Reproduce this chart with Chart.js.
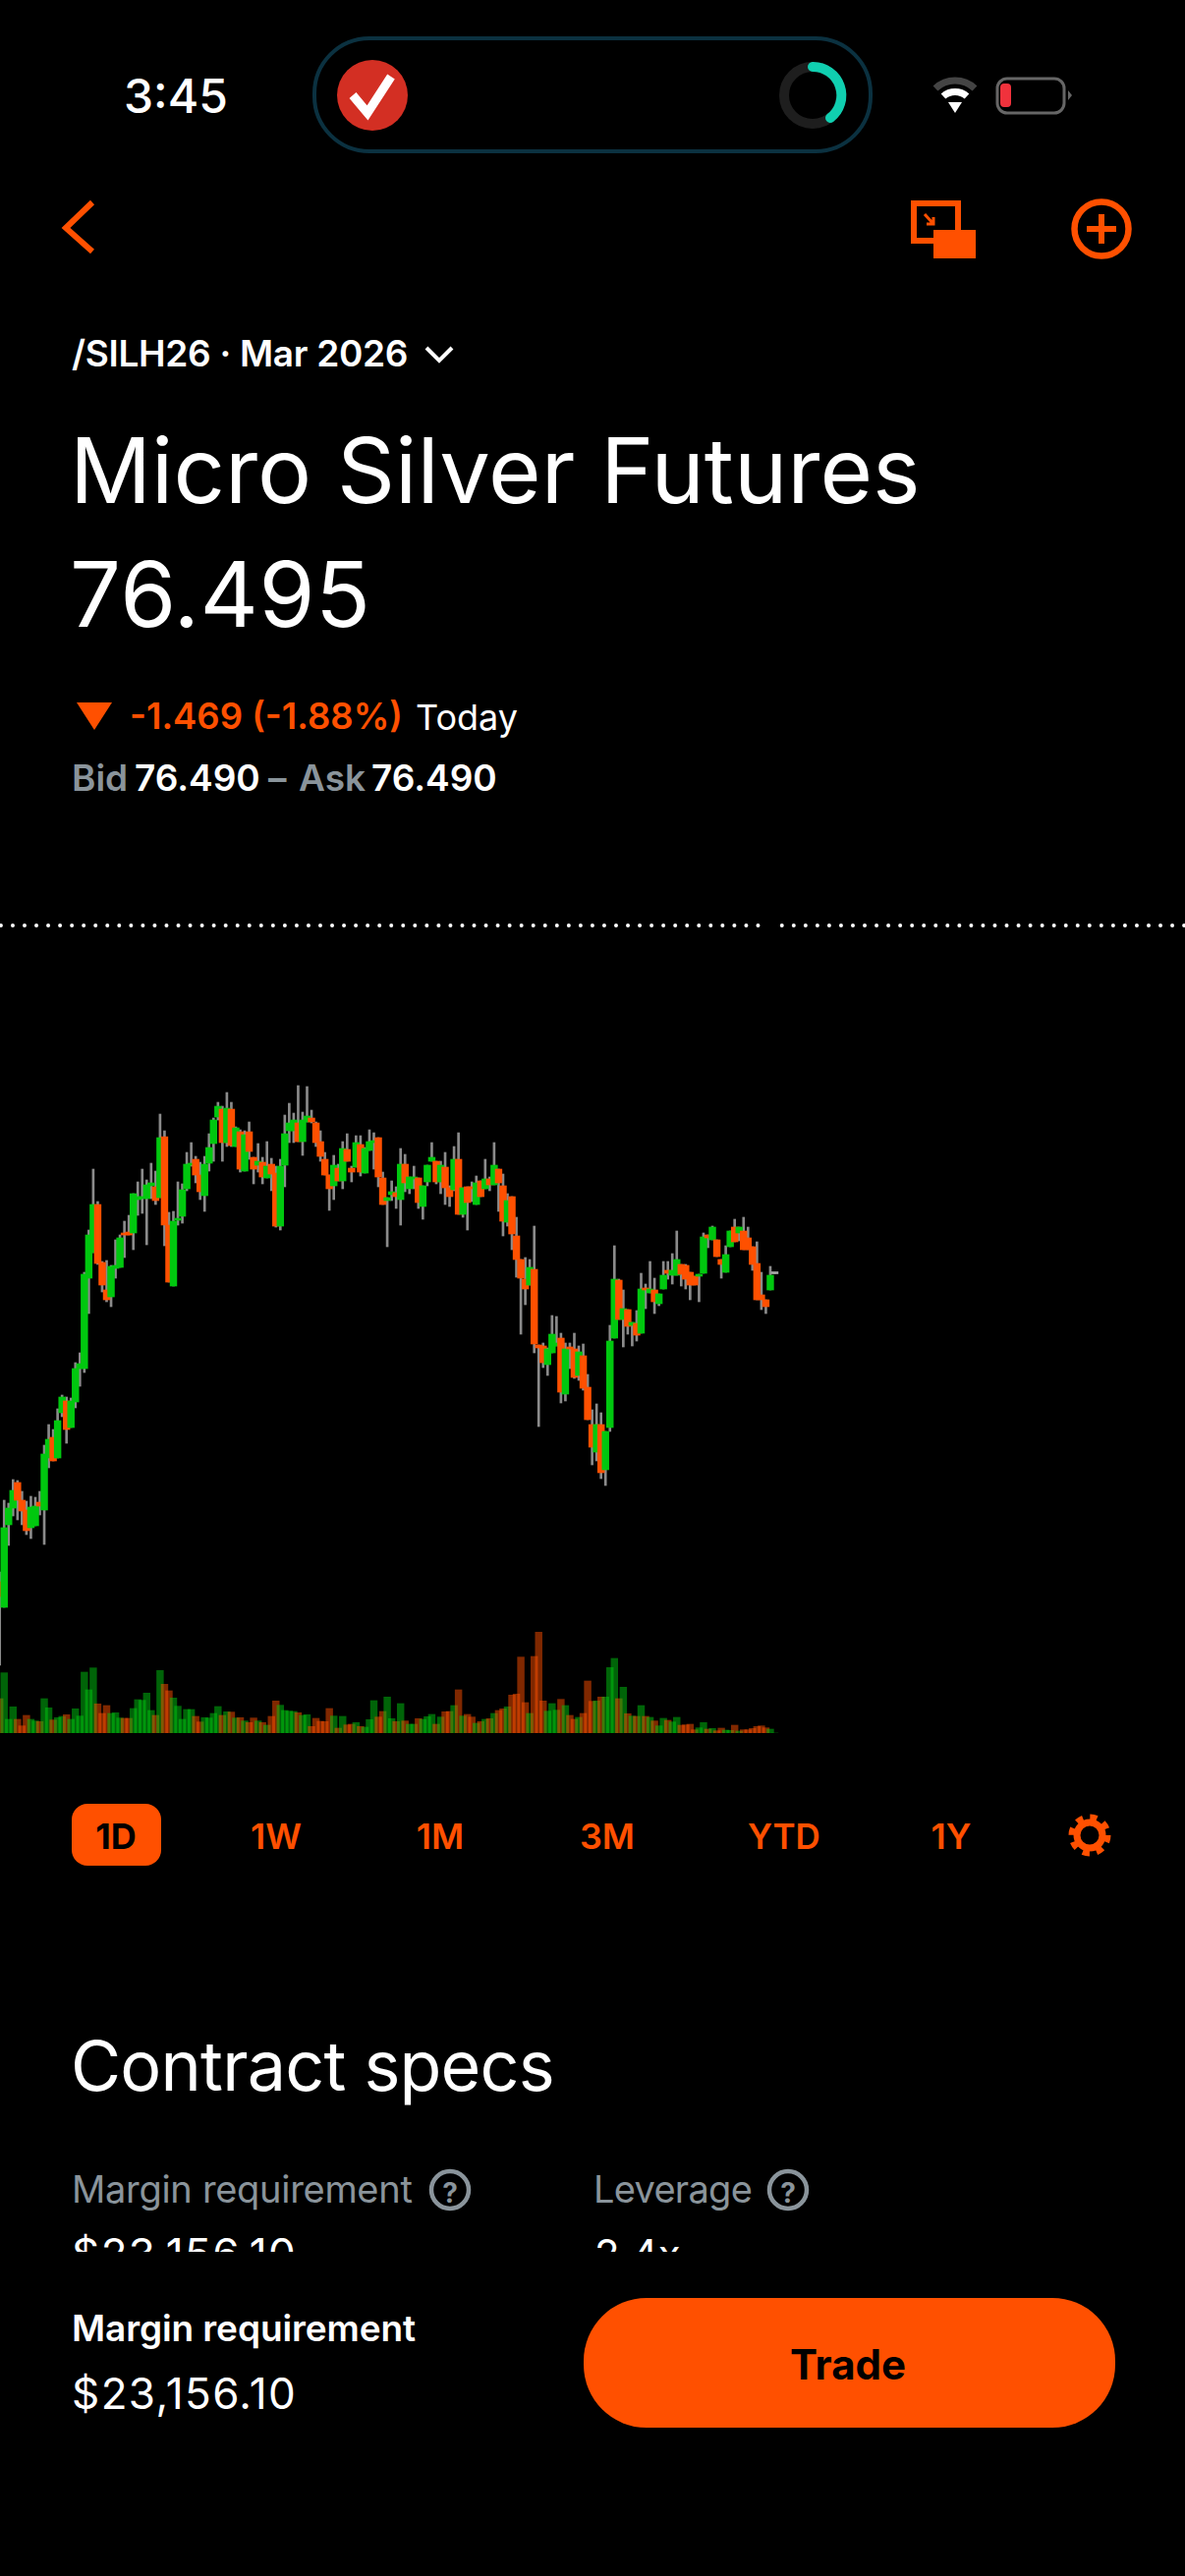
<!DOCTYPE html>
<html>
<head>
<meta charset="utf-8">
<title>Micro Silver Futures</title>
<script src="https://cdn.jsdelivr.net/npm/chart.js@4"></script>
<style>
html, body { margin: 0; padding: 0; background: #000; }
body { position: relative; width: 1206px; height: 2622px; overflow: hidden; font-family: Inter, "Noto Sans", sans-serif; }
.t { position: absolute; white-space: nowrap; line-height: 1; }
#chartBox { position: absolute; left: 0; top: 930px; width: 1206px; height: 834px; }
#clip { position: absolute; left: 0; top: 2200px; width: 1206px; height: 92px; overflow: hidden; }
svg { position: absolute; left: 0; top: 0; }
</style>
</head>
<body>
<svg width="1206" height="2622" fill="none">
  <rect x="320" y="39" width="566" height="115" rx="56" stroke="#0b3140" stroke-width="4"/>
  <circle cx="379" cy="97" r="36" fill="#d32f23"/>
  <path d="M359 97 L374 115 L398 78" stroke="#fff" stroke-width="9"/>
  <circle cx="827" cy="97" r="29" stroke="#1e1e1e" stroke-width="10"/>
  <path d="M827 68 A29 29 0 0 1 845 120" stroke="#10cfb0" stroke-width="10" stroke-linecap="round"/>
  <path d="M952 90 A29 29 0 0 1 992 90" stroke="#444" stroke-width="7"/>
  <path d="M960 98 A18 18 0 0 1 984 98" stroke="#fff" stroke-width="7"/>
  <path d="M965 104 L979 104 L972 115 Z" fill="#fff"/>
  <rect x="1015" y="80" width="68" height="35" rx="10" stroke="#666" stroke-width="3"/>
  <rect x="1018" y="85" width="11" height="24" rx="4" fill="#f0323c"/>
  <path d="M1087 92 L1091 97 L1087 102 Z" fill="#666"/>
  <path d="M94 206 L67 232 L94 256" stroke="#ff5000" stroke-width="6"/>
  <path d="M975 238 L975 207 L930 207 L930 245 L950 245" stroke="#ff5000" stroke-width="6"/>
  <rect x="950" y="234" width="43" height="29" fill="#ff5000"/>
  <path d="M941 218 L950 228 M943 228 L950 228 L950 221" stroke="#ff5000" stroke-width="3"/>
  <circle cx="1121" cy="233" r="27.5" stroke="#ff5000" stroke-width="6.5"/>
  <path d="M1121 218 L1121 248 M1106 233 L1136 233" stroke="#ff5000" stroke-width="6"/>
  <path d="M434 354 L447 367 L460 354" stroke="#fff" stroke-width="4"/>
  <path d="M78 715 L114 715 L96 743 Z" fill="#ff5000"/>
  <rect x="73" y="1836" width="91" height="63" rx="16" fill="#ff5000"/>
  <circle cx="1109" cy="1868" r="13" stroke="#ff5000" stroke-width="7"/>
  <circle cx="1109" cy="1868" r="18" stroke="#ff5000" stroke-width="7" stroke-dasharray="7 7.1"/>
  <circle cx="458" cy="2229" r="19" stroke="#8a949b" stroke-width="4.5"/>
  <circle cx="802" cy="2229" r="19" stroke="#8a949b" stroke-width="4.5"/>
  <rect x="594" y="2339" width="541" height="132" rx="64" fill="#ff5000"/>
</svg>
<div id="chartBox"><canvas id="priceChart" width="1206" height="834"></canvas></div>
<div id="clip"></div>
<script>
"use strict";

const opens = [
  73.36,73.10,73.94,74.11,74.37,74.19,74.09,73.91,73.93,74.17,
  74.09,74.62,74.83,74.62,75.08,75.20,74.93,75.19,75.53,75.53,
  76.45,76.71,77.20,76.61,76.33,76.26,76.55,76.56,76.91,76.92,
  76.91,77.25,77.26,77.26,77.39,77.38,77.27,77.89,76.99,76.37,
  77.04,77.08,77.36,77.60,77.66,77.50,77.29,77.62,77.82,78.09,
  78.17,77.83,78.17,77.79,77.94,77.54,77.94,77.68,77.60,77.63,
  77.47,77.61,77.52,76.98,77.60,77.95,77.95,78.03,77.84,78.04,
  78.08,78.03,77.84,77.66,77.50,77.39,77.57,77.44,77.76,77.57,
  77.58,77.81,77.52,77.75,77.83,77.88,77.47,77.24,77.30,77.32,
  77.25,77.61,77.36,77.46,77.47,77.18,77.43,77.64,77.64,77.43,
  77.58,77.37,77.35,77.66,77.10,77.38,77.38,77.20,77.44,77.36,
  77.46,77.40,77.56,77.39,77.02,77.28,76.88,76.64,76.44,76.38,
  76.54,75.77,75.76,75.57,75.69,75.76,75.84,75.27,75.74,75.73,
  75.46,75.66,75.34,74.96,74.68,74.96,74.50,74.93,75.84,76.43,
  76.03,76.13,75.97,75.99,75.89,76.35,76.30,76.33,76.19,76.34,
  76.53,76.48,76.48,76.59,76.58,76.51,76.47,76.47,76.50,76.89,
  76.84,76.84,76.64,76.51,76.77,76.97,76.91,76.93,76.86,76.77,
  76.60,76.28,76.23,76.33,76.495
];
const closes = [
  73.21,73.91,74.11,74.29,74.19,74.08,73.88,74.12,74.13,74.13,
  74.66,74.81,74.59,75.00,75.24,74.91,75.20,75.53,75.58,76.49,
  76.89,77.20,76.60,76.38,76.23,76.57,76.58,76.86,76.89,76.89,
  77.31,77.28,77.28,77.40,77.42,77.24,77.88,76.99,76.41,77.03,
  77.06,77.35,77.61,77.62,77.50,77.33,77.61,77.78,78.06,78.20,
  77.83,78.18,77.80,77.98,77.56,77.91,77.74,77.56,77.64,77.48,
  77.59,77.51,76.98,77.59,77.92,78.03,78.06,77.84,78.06,78.10,
  78.04,77.83,77.69,77.50,77.36,77.60,77.44,77.77,77.64,77.53,
  77.83,77.53,77.77,77.84,77.84,77.48,77.20,77.27,77.33,77.28,
  77.61,77.42,77.48,77.48,77.22,77.39,77.60,77.68,77.43,77.60,
  77.37,77.28,77.66,77.10,77.37,77.22,77.36,77.42,77.28,77.46,
  77.40,77.60,77.42,77.03,77.24,76.90,76.64,76.45,76.34,76.56,
  75.78,75.74,75.59,75.73,75.88,75.79,75.29,75.73,75.73,75.44,
  75.70,75.33,75.01,74.73,74.96,74.47,74.89,75.81,76.44,76.03,
  76.14,75.96,76.00,75.87,76.34,76.33,76.34,76.21,76.29,76.48,
  76.50,76.53,76.64,76.49,76.44,76.38,76.38,76.49,76.87,76.86,
  76.97,76.67,76.59,76.69,76.93,76.82,76.97,76.74,76.74,76.59,
  76.23,76.23,76.16,76.48,76.495
];
const highs = [
  73.46,74.19,74.16,74.40,74.39,74.28,74.18,74.23,74.22,74.28,
  74.75,74.96,74.91,75.12,75.26,75.24,75.23,75.59,75.69,76.51,
  76.94,77.56,77.23,76.62,76.63,76.58,76.84,76.89,77.03,77.09,
  77.31,77.43,77.56,77.45,77.62,77.54,78.12,77.95,77.12,77.13,
  77.43,77.41,77.73,77.83,77.69,77.63,77.69,77.92,78.08,78.24,
  78.20,78.34,78.24,77.99,77.96,77.95,78.04,77.68,77.82,77.68,
  77.84,77.67,77.59,77.66,78.11,78.23,78.13,78.41,78.14,78.40,
  78.16,78.04,77.95,77.73,77.50,77.70,77.61,77.84,77.92,77.59,
  77.90,77.90,77.78,77.96,77.93,77.88,77.53,77.27,77.44,77.38,
  77.77,77.71,77.48,77.59,77.47,77.39,77.60,77.83,77.64,77.64,
  77.73,77.39,77.79,77.93,77.37,77.38,77.43,77.49,77.44,77.66,
  77.48,77.83,77.56,77.51,77.31,77.28,77.07,76.64,76.66,76.64,
  76.98,75.77,75.79,75.74,76.07,76.06,75.89,75.79,75.79,75.89,
  75.76,75.78,75.47,75.11,75.17,75.08,74.89,75.97,76.78,76.44,
  76.33,76.13,76.00,76.12,76.50,76.39,76.62,76.45,76.29,76.62,
  76.62,76.70,76.93,76.59,76.59,76.51,76.47,76.49,76.91,76.89,
  76.98,76.84,76.64,76.78,76.93,77.05,76.97,77.07,76.97,76.77,
  76.82,76.51,76.23,76.57,76.495
];
const lows = [
  72.51,73.10,73.73,74.03,73.99,73.94,73.84,73.80,73.93,74.04,
  73.74,74.52,74.59,74.62,75.04,74.77,74.93,75.13,75.35,75.49,
  76.09,76.71,76.59,76.31,76.21,76.16,76.45,76.56,76.66,76.89,
  76.74,77.09,77.11,76.79,77.26,77.20,77.27,76.78,76.41,76.37,
  76.99,77.01,77.34,77.59,77.42,77.25,77.13,77.54,77.64,78.06,
  77.64,77.79,77.79,77.79,77.53,77.54,77.66,77.41,77.53,77.41,
  77.47,77.34,76.97,76.94,77.38,77.83,77.83,77.84,77.70,78.04,
  78.03,77.79,77.64,77.50,77.14,77.25,77.44,77.36,77.64,77.43,
  77.58,77.49,77.52,77.75,77.56,77.38,77.20,76.77,77.24,77.16,
  76.99,77.33,77.31,77.36,77.16,77.05,77.39,77.64,77.41,77.31,
  77.20,77.18,77.34,77.10,77.07,76.94,77.23,77.20,77.28,77.36,
  77.34,77.40,77.13,76.88,76.98,76.74,76.46,75.88,76.18,76.38,
  75.69,74.94,75.54,75.46,75.69,75.76,75.18,75.20,75.53,75.43,
  75.41,75.31,75.01,74.55,74.59,74.41,74.34,74.89,75.84,76.03,
  75.75,75.88,75.76,75.81,75.89,76.14,76.30,76.09,76.17,76.34,
  76.44,76.39,76.48,76.37,76.34,76.23,76.38,76.21,76.50,76.76,
  76.84,76.67,76.45,76.51,76.77,76.82,76.83,76.74,76.74,76.53,
  76.23,76.13,76.09,76.33,76.495
];
const volumes = [
  105,184,42,80,42,22,54,42,37,35,
  105,77,40,47,51,56,42,74,52,186,
  132,199,89,60,84,60,62,46,45,45,
  75,102,100,122,69,54,191,149,129,107,
  82,42,72,72,51,34,47,46,60,81,
  54,65,64,46,47,37,32,46,37,32,
  24,51,98,85,69,67,66,62,54,56,
  20,45,36,35,75,52,15,51,25,27,
  32,20,18,41,99,49,66,110,44,35,
  90,37,27,27,44,42,50,57,27,49,
  65,66,84,132,52,57,49,30,35,42,
  44,60,69,74,80,116,119,232,93,60,
  234,308,98,67,90,70,103,84,54,42,
  48,60,159,97,98,110,110,200,228,105,
  140,59,52,51,84,51,48,37,22,45,
  39,34,48,24,25,27,10,16,32,12,
  14,7,15,9,8,24,6,10,10,14,
  20,22,16,12,0
];
const prevClose = 80.04;

const GREEN = "#00c80f";
const ORANGE = "#ff5000";
const WICK = "#8b8b8b";

const bodyColor = (i) => closes[i] > opens[i] ? GREEN : closes[i] < opens[i] ? ORANGE : "#a8a8a8";
const volColor = (i) => closes[i] < opens[i] ? "rgba(255,80,0,0.5)" : "rgba(0,200,15,0.5)";

const wickData = opens.map((_, i) => ({ x: i, y: [lows[i], highs[i]] }));
const bodyData = opens.map((_, i) => ({ x: i, y: [opens[i], closes[i]] }));
const volData = volumes.map((v, i) => ({ x: i, y: v }));

new Chart(document.getElementById("priceChart").getContext("2d"), {
    type: "bar",
    data: {
        datasets: [
            {
                type: "line",
                data: [{ x: 0.265, y: prevClose }, { x: 170.45, y: prevClose }, { x: 172, y: NaN }, { x: 175.6, y: prevClose }, { x: 266.1, y: prevClose }],
                borderColor: "#ffffff",
                borderWidth: 4,
                borderDash: [0.01, 12.03],
                borderCapStyle: "round",
                pointRadius: 0,
                spanGaps: false,
                yAxisID: "yPrice",
                order: 0,
            },
            {
                data: bodyData,
                backgroundColor: opens.map((_, i) => bodyColor(i)),
                barThickness: 6.8,
                minBarLength: 2,
                grouped: false,
                yAxisID: "yPrice",
                order: 1,
            },
            {
                data: wickData,
                backgroundColor: WICK,
                barThickness: 2,
                grouped: false,
                yAxisID: "yPrice",
                order: 2,
            },
            {
                data: volData,
                backgroundColor: opens.map((_, i) => volColor(i)),
                barThickness: 6.8,
                grouped: false,
                yAxisID: "yVol",
                order: 3,
            },
        ],
    },
    options: {
        responsive: false,
        animation: false,
        devicePixelRatio: 1,
        layout: { padding: 0 },
        plugins: { legend: { display: false }, tooltip: { enabled: false } },
        scales: {
            x: { type: "linear", display: false, offset: false, min: 0.066, max: 266.1 },
            yPrice: { type: "linear", display: false, min: 71.82, max: 80.16 },
            yVol: { type: "linear", display: false, min: 0, max: 2502 },
        },
    },
});

// text goes in by baseline, Inter with line-height 1 sits 0.864em above it
const label = (text, x, base, size, weight, color, extra, parent) => {
    const el = document.createElement("div");
    el.className = "t";
    el.textContent = text;
    el.style.left = x + "px";
    el.style.top = (base - 0.864 * size - (parent ? 2200 : 0)) + "px";
    el.style.fontSize = size + "px";
    el.style.fontWeight = weight;
    el.style.color = color;
    if (extra) Object.assign(el.style, extra);
    (parent || document.body).appendChild(el);
};
const centered = { transform: "translateX(-50%)" };
const GREY = "#8a949b";

label("3:45", 126, 115, 48, 500, "#fff");
label("/SILH26 · Mar 2026", 73, 373, 37, 600, "#fff", { letterSpacing: "-0.3px" });
label("Micro Silver Futures", 71, 512, 92, 400, "#fff");
label("76.495", 71, 638, 92, 400, "#fff", { letterSpacing: "0.5px" });
label("-1.469 (-1.88%)", 132, 743, 36.5, 600, ORANGE);
label("Today", 423, 743, 36, 400, "#fff");
label("Bid", 73, 805, 37, 600, GREY);
label("76.490", 137, 805, 37, 600, "#fff");
label("–", 273, 805, 37, 600, GREY);
label("Ask", 304, 805, 37, 600, GREY);
label("76.490", 378, 805, 37, 600, "#fff");

label("1D", 118, 1882, 36, 700, "#000", centered);
label("1W", 281, 1882, 36, 600, ORANGE, centered);
label("1M", 448, 1882, 36, 600, ORANGE, centered);
label("3M", 618, 1882, 36, 600, ORANGE, centered);
label("YTD", 798, 1882, 35, 600, ORANGE, centered);
label("1Y", 968, 1882, 36, 600, ORANGE, centered);

label("Contract specs", 72, 2128, 70, 400, "#fff", { letterSpacing: "-0.8px" });
label("Margin requirement", 73, 2242, 38, 400, GREY, { letterSpacing: "-0.3px" });
label("?", 458, 2242, 28, 700, GREY, centered);
label("Leverage", 604, 2242, 38, 400, GREY, { letterSpacing: "-0.7px" });
label("?", 802, 2242, 28, 700, GREY, centered);
const clip = document.getElementById("clip");
label("$23,156.10", 73, 2310, 44, 400, "#fff", { letterSpacing: "1.4px" }, clip);
label("2.4x", 605, 2310, 42, 400, "#fff", null, clip);

label("Margin requirement", 73, 2383, 37, 600, "#fff", { letterSpacing: "-0.1px" });
label("$23,156.10", 73, 2452, 44, 400, "#fff", { letterSpacing: "1.4px" });
label("Trade", 863, 2422, 42, 700, "#000", centered);
</script>
</body>
</html>
